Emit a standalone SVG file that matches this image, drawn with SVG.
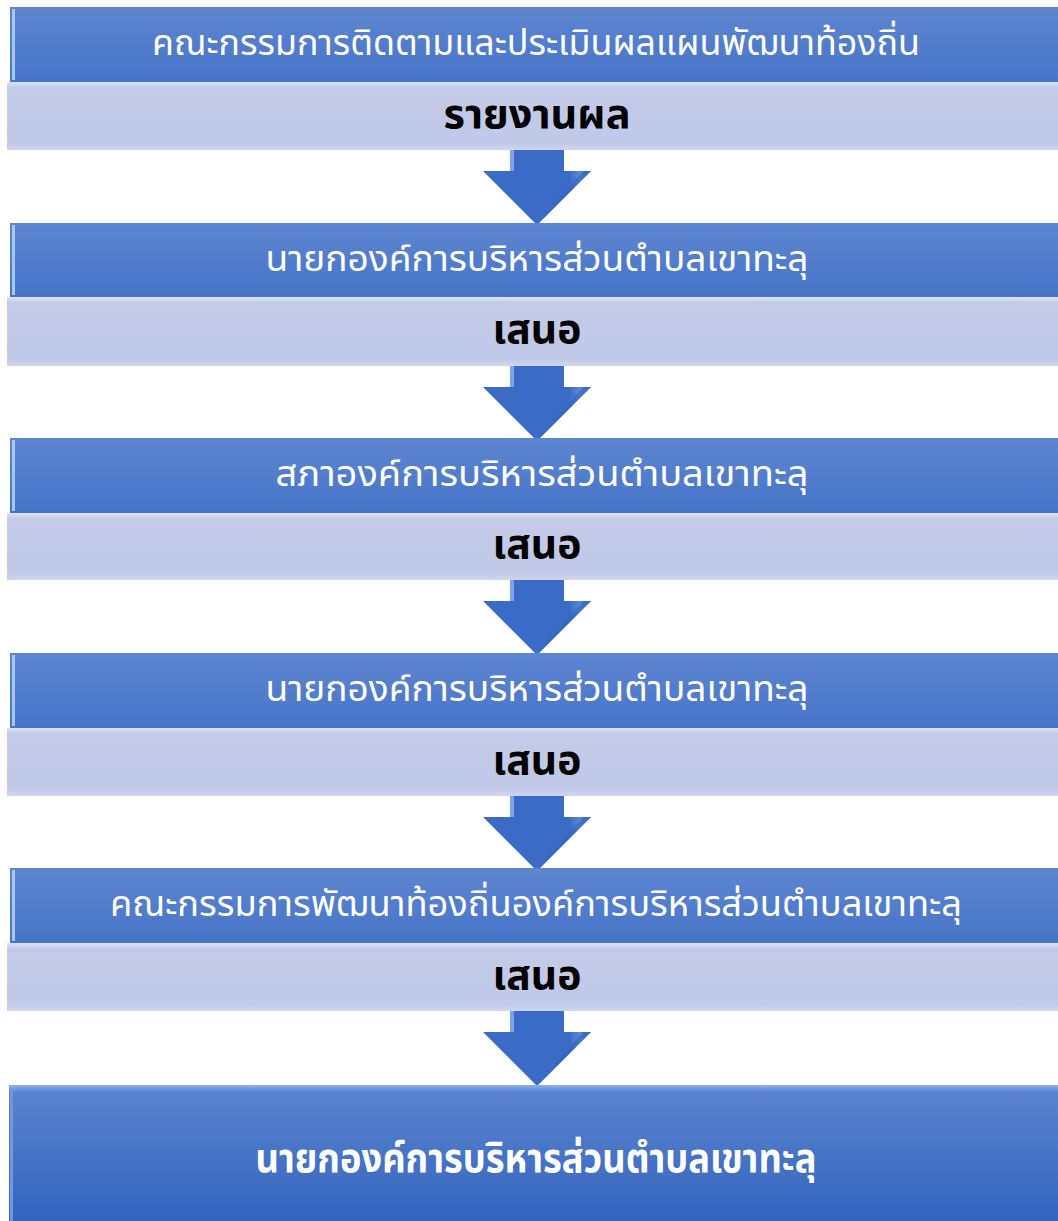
<svg xmlns="http://www.w3.org/2000/svg" width="1058" height="1221" viewBox="0 0 1058 1221">
<defs>
<linearGradient id="gBlue" x1="0" y1="0" x2="0" y2="1">
<stop offset="0" stop-color="#5d86d0"/>
<stop offset="1" stop-color="#4674c8"/>
</linearGradient>
<linearGradient id="gLight" x1="0" y1="0" x2="0" y2="1">
<stop offset="0" stop-color="#dfe5f4"/>
<stop offset="0.08" stop-color="#c3cbe9"/>
<stop offset="0.9" stop-color="#c1c9e8"/>
<stop offset="1" stop-color="#cfd6ef"/>
</linearGradient>
<linearGradient id="gFinal" x1="0" y1="0" x2="0" y2="1">
<stop offset="0" stop-color="#8fb2ec"/>
<stop offset="0.05" stop-color="#5a83cf"/>
<stop offset="1" stop-color="#3264bd"/>
</linearGradient>
<linearGradient id="gArrow" x1="0" y1="0" x2="1" y2="0">
<stop offset="0" stop-color="#3a6cc7"/>
<stop offset="0.8" stop-color="#3a6cc7"/>
<stop offset="0.9" stop-color="#5a88d6"/>
<stop offset="1" stop-color="#3a6cc7"/>
</linearGradient>
<g id="arrow">
<rect x="510" y="-8" width="54" height="8" fill="#a9b8e2" opacity="0.8"/>
<path d="M510 0 H564 V21 H591 L537 75 L483 21 H510 Z" fill="url(#gArrow)"/>
<path d="M510 0 H514 V21 H510 Z" fill="#8fb2ec" opacity="0.8"/>
<path d="M537 75 L564 48 L591 21 L583 21 Z" fill="#2f5fb8" opacity="0.5"/>
</g>
</defs>
<style>
.blue{fill:url(#gBlue)}
.light{fill:url(#gLight)}
.edge{fill:#a9c4f0}
.t1{font-family:"Noto Sans Thai","Noto Sans","DejaVu Sans",sans-serif;font-size:36px;fill:#ffffff;text-anchor:middle}
.t2{font-family:"Noto Sans Thai","Noto Sans","DejaVu Sans",sans-serif;font-size:40px;font-weight:bold;fill:#000000;text-anchor:middle}
.t3{font-family:"Noto Sans Thai","Noto Sans","DejaVu Sans",sans-serif;font-size:40px;font-weight:bold;fill:#ffffff;text-anchor:middle}
</style>
<rect width="1058" height="1221" fill="#ffffff"/>

<g id="connectors">
<use href="#arrow" transform="translate(0,150)"/>
<use href="#arrow" transform="translate(0,366)"/>
<use href="#arrow" transform="translate(0,580)"/>
<use href="#arrow" transform="translate(0,796)"/>
<use href="#arrow" transform="translate(0,1011)"/>
</g>

<g id="node1">
<rect class="blue" x="10" y="7" width="1048" height="75"/>
<rect class="edge" x="12" y="9" width="3" height="71"/>
<text class="t1" x="536" y="55" textLength="768" lengthAdjust="spacingAndGlyphs">คณะกรรมการติดตามและประเมินผลแผนพัฒนาท้องถิ่น</text>
</g>
<g id="label1">
<rect class="light" x="7" y="82" width="1051" height="68"/>
<text class="t2" x="537" y="128" textLength="187" lengthAdjust="spacingAndGlyphs">รายงานผล</text>
</g>

<g id="node2">
<rect class="blue" x="10" y="223" width="1048" height="74"/>
<rect class="edge" x="12" y="225" width="3" height="70"/>
<text class="t1" x="537" y="271" textLength="543" lengthAdjust="spacingAndGlyphs">นายกองค์การบริหารส่วนตำบลเขาทะลุ</text>
</g>
<g id="label2">
<rect class="light" x="7" y="297" width="1051" height="69"/>
<text class="t2" x="537" y="343" textLength="89" lengthAdjust="spacingAndGlyphs">เสนอ</text>
</g>

<g id="node3">
<rect class="blue" x="10" y="438" width="1048" height="75"/>
<rect class="edge" x="12" y="440" width="3" height="71"/>
<text class="t1" x="542" y="486" textLength="533" lengthAdjust="spacingAndGlyphs">สภาองค์การบริหารส่วนตำบลเขาทะลุ</text>
</g>
<g id="label3">
<rect class="light" x="7" y="513" width="1051" height="67"/>
<text class="t2" x="537" y="558" textLength="89" lengthAdjust="spacingAndGlyphs">เสนอ</text>
</g>

<g id="node4">
<rect class="blue" x="10" y="653" width="1048" height="75"/>
<rect class="edge" x="12" y="655" width="3" height="71"/>
<text class="t1" x="537" y="701" textLength="543" lengthAdjust="spacingAndGlyphs">นายกองค์การบริหารส่วนตำบลเขาทะลุ</text>
</g>
<g id="label4">
<rect class="light" x="7" y="728" width="1051" height="68"/>
<text class="t2" x="537" y="774" textLength="89" lengthAdjust="spacingAndGlyphs">เสนอ</text>
</g>

<g id="node5">
<rect class="blue" x="10" y="868" width="1048" height="75"/>
<rect class="edge" x="12" y="870" width="3" height="71"/>
<text class="t1" x="536" y="916" textLength="852" lengthAdjust="spacingAndGlyphs">คณะกรรมการพัฒนาท้องถิ่นองค์การบริหารส่วนตำบลเขาทะลุ</text>
</g>
<g id="label5">
<rect class="light" x="7" y="943" width="1051" height="68"/>
<text class="t2" x="537" y="989" textLength="89" lengthAdjust="spacingAndGlyphs">เสนอ</text>
</g>

<g id="node6">
<rect x="9" y="1085" width="1049" height="136" fill="url(#gFinal)"/>
<rect x="10" y="1090" width="3" height="131" fill="#6f98e0"/>
<text class="t3" x="536" y="1172" textLength="561" lengthAdjust="spacingAndGlyphs">นายกองค์การบริหารส่วนตำบลเขาทะลุ</text>
</g>
</svg>
